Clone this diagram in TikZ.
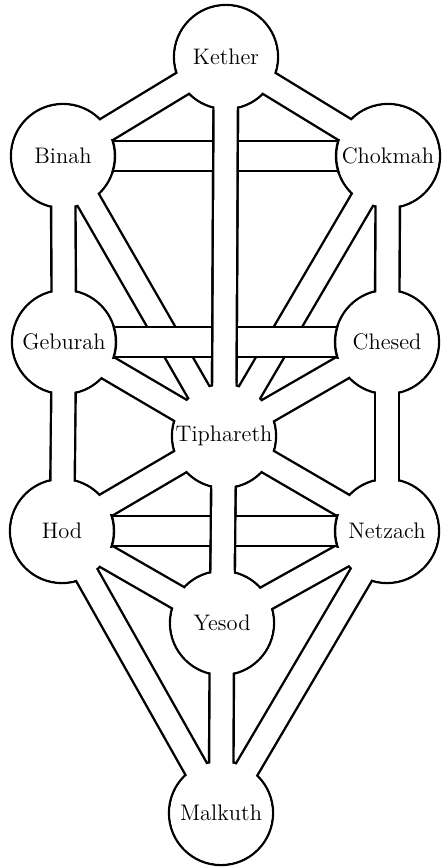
\documentclass[tikz,border=0pt]{standalone}
\usepackage{fontspec}
\usepackage{tikz}

\begin{document}
\begin{tikzpicture}[x=.02cm,y=-.02cm]
  \tikzset{
    sephira/.style={circle,minimum size=2.08cm,inner sep=0pt,draw=black,fill=white,line width=.048cm},
    chanout/.style={black,line width=.536cm},
    chanin/.style={white,line width=.44cm},
    barout/.style={black,line width=.656cm},
    barin/.style={white,line width=.56cm},
    seflabel/.style={font=\fontsize{12.8}{15}\selectfont,inner sep=0pt}
  }
  \useasboundingbox (0,0) rectangle (441,868);
  % the ten spheres
  \node[sephira] (kether) at (226,57) {};
  \node[sephira] (binah) at (63,156) {};
  \node[sephira] (chokmah) at (388,156) {};
  \node[sephira] (geburah) at (64,342) {};
  \node[sephira] (chesed) at (387,342) {};
  \node[sephira] (tiphareth) at (224,436) {};
  \node[sephira] (hod) at (62,531) {};
  \node[sephira] (netzach) at (387,531) {};
  \node[sephira] (yesod) at (222,623) {};
  \node[sephira] (malkuth) at (221,813) {};
  % paths that run into the spheres
  \def\channels{binah/tiphareth,chokmah/tiphareth,kether/binah,kether/chokmah,kether/tiphareth,
    binah/geburah,chokmah/chesed,geburah/tiphareth,chesed/tiphareth,geburah/hod,chesed/netzach,
    tiphareth/hod,tiphareth/netzach,tiphareth/yesod,hod/yesod,netzach/yesod,hod/malkuth,
    netzach/malkuth,yesod/malkuth}
  \foreach \a/\b in \channels \draw[chanout] (\a.center) -- (\b.center);
  \foreach \a/\b in \channels \draw[chanin] (\a.center) -- (\b.center);
  \foreach \n in {kether,binah,chokmah,geburah,chesed,tiphareth,hod,netzach,yesod,malkuth}
    \fill[white] (\n.center) circle[radius=1.016cm];
  % the three cross paths
  \foreach \a/\b in {binah/chokmah,geburah/chesed,hod/netzach} {
    \draw[barout] (\a.center) -- (\b.center);
    \draw[barin] (\a.center) -- (\b.center);
    \begin{scope}
      \clip ([yshift=.33cm]\a.center) rectangle ([yshift=-.33cm]\b.center);
      \filldraw[fill=white,line width=.048cm] (\a.center) circle[radius=1.04cm] (\b.center) circle[radius=1.04cm];
    \end{scope}
  }
  % middle pillar passes over them
  \foreach \a/\b in {kether/tiphareth,tiphareth/yesod} {
    \draw[chanout,shorten <=1.06cm,shorten >=1.06cm] (\a.center) -- (\b.center);
    \draw[chanin,shorten <=.8cm,shorten >=.8cm] (\a.center) -- (\b.center);
  }
  % names
  \foreach \n/\t in {kether/Kether,binah/Binah,chokmah/Chokmah,geburah/Geburah,chesed/Chesed,
    tiphareth/Tiphareth,hod/Hod,netzach/Netzach,yesod/Yesod,malkuth/Malkuth}
    \node[seflabel] (\n-name) at (\n) {\t};
\end{tikzpicture}
\end{document}
